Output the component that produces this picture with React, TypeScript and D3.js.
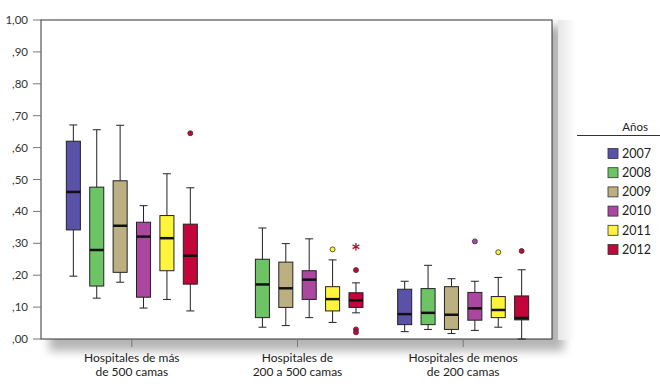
import React, { useEffect, useRef } from 'react';
import * as d3 from 'd3';

// groups (x categories) and years (series)
const groups = [
  ['Hospitales de más', 'de 500 camas'],
  ['Hospitales de', '200 a 500 camas'],
  ['Hospitales de menos', 'de 200 camas'],
];
const years = ['2007', '2008', '2009', '2010', '2011', '2012'];
const yearColors = ['#5a52a8', '#6cc464', '#bcb082', '#ab47a0', '#fff33b', '#c2053b'];

// [low whisker, Q1, median, Q3, high whisker] per year, one array per group (null = no data)
const statsLarge = [
  [0.197, 0.342, 0.461, 0.62, 0.671],
  [0.128, 0.166, 0.279, 0.476, 0.656],
  [0.178, 0.209, 0.355, 0.496, 0.67],
  [0.097, 0.131, 0.321, 0.366, 0.418],
  [0.124, 0.214, 0.316, 0.387, 0.518],
  [0.088, 0.172, 0.261, 0.36, 0.474],
];
const statsMedium = [
  null,
  [0.037, 0.067, 0.171, 0.25, 0.348],
  [0.042, 0.099, 0.159, 0.241, 0.299],
  [0.067, 0.124, 0.186, 0.214, 0.314],
  [0.052, 0.088, 0.125, 0.164, 0.248],
  [0.082, 0.099, 0.121, 0.145, 0.176],
];
const statsSmall = [
  [0.023, 0.045, 0.078, 0.156, 0.181],
  [0.03, 0.045, 0.082, 0.158, 0.231],
  [0.017, 0.03, 0.076, 0.164, 0.189],
  [0.027, 0.059, 0.096, 0.146, 0.181],
  [0.037, 0.067, 0.091, 0.133, 0.193],
  [0.0, 0.06, 0.066, 0.135, 0.217],
];
const allStats = [statsLarge, statsMedium, statsSmall];

// outliers: [group, year index, value, type]
const outliers: [number, number, number, 'o' | '*'][] = [
  [0, 5, 0.645, 'o'],
  [1, 4, 0.281, 'o'],
  [1, 5, 0.285, '*'],
  [1, 5, 0.216, 'o'],
  [1, 5, 0.03, 'o'],
  [1, 5, 0.021, 'o'],
  [2, 3, 0.306, 'o'],
  [2, 4, 0.272, 'o'],
  [2, 5, 0.276, 'o'],
];

const yTicks = [0, 0.1, 0.2, 0.3, 0.4, 0.5, 0.6, 0.7, 0.8, 0.9, 1.0];
const fmt = (v: number) => (v === 1 ? '1,00' : ',' + v.toFixed(2).split('.')[1]);

export default function App() {
  const ref = useRef<SVGSVGElement>(null);

  useEffect(() => {
    if (!ref.current) return;
    const svg = d3.select(ref.current);
    svg.selectAll('*').remove();

    const left = 41, right = 552, top = 20, bottom = 339;
    const font = 'Lato, "Open Sans", sans-serif';

    const y = d3.scaleLinear().domain([0, 1]).range([bottom, top]);
    const x0 = d3.scaleBand<number>().domain([0, 1, 2]).range([49, 546]);
    const x1 = d3.scaleBand<number>().domain(d3.range(years.length)).range([0, 131]).paddingInner(0.4);

    // shadow
    const defs = svg.append('defs');
    const f = defs.append('filter').attr('id', 'sh').attr('x', '-10%').attr('y', '-10%').attr('width', '130%').attr('height', '130%');
    f.append('feGaussianBlur').attr('stdDeviation', 5);
    svg.append('rect')
      .attr('x', left + 8).attr('y', top + 6).attr('width', right - left + 4).attr('height', bottom - top + 6)
      .attr('fill', '#b5b5b5').attr('filter', 'url(#sh)');
    svg.append('rect')
      .attr('x', left).attr('y', top).attr('width', right - left).attr('height', bottom - top)
      .attr('fill', '#fff').attr('stroke', '#333').attr('stroke-width', 1);

    // legend shadow band
    const lg = defs.append('linearGradient').attr('id', 'lg');
    lg.append('stop').attr('offset', 0).attr('stop-color', '#e6e6e6');
    lg.append('stop').attr('offset', 1).attr('stop-color', '#fff');

    // y axis
    const ya = svg.append('g');
    yTicks.forEach((t) => {
      ya.append('line').attr('x1', 33).attr('x2', left).attr('y1', y(t)).attr('y2', y(t))
        .attr('stroke', '#777').attr('stroke-width', 1);
      ya.append('text').attr('x', 28).attr('y', y(t)).attr('dy', '0.35em')
        .attr('text-anchor', 'end').attr('font-family', font).attr('font-size', 11.5)
        .attr('fill', '#333').text(fmt(t));
    });

    // x axis ticks and labels
    groups.forEach((lines, gi) => {
      const cx = x0(gi)! + x0.bandwidth() / 2;
      svg.append('line').attr('x1', cx).attr('x2', cx).attr('y1', bottom).attr('y2', bottom + 8)
        .attr('stroke', '#777');
      lines.forEach((l, li) => {
        svg.append('text').attr('x', cx).attr('y', 362 + li * 14)
          .attr('text-anchor', 'middle').attr('font-family', font).attr('font-size', 12)
          .attr('fill', '#222').text(l);
      });
    });

    // boxes
    const boxX = (gi: number, yi: number) => x0(gi)! + (x0.bandwidth() - 131) / 2 + x1(yi)!;
    allStats.forEach((stats, gi) => {
      stats.forEach((s, yi) => {
        if (!s) return;
        const [lo, q1, med, q3, hi] = s;
        const bx = boxX(gi, yi);
        const bw = x1.bandwidth();
        const cx = bx + bw / 2;
        const g = svg.append('g');
        g.append('line').attr('x1', cx).attr('x2', cx).attr('y1', y(hi)).attr('y2', y(lo))
          .attr('stroke', '#222').attr('stroke-width', 1);
        [lo, hi].forEach((v) => g.append('line').attr('x1', cx - 4).attr('x2', cx + 4)
          .attr('y1', y(v)).attr('y2', y(v)).attr('stroke', '#222').attr('stroke-width', 1));
        g.append('rect').attr('x', bx).attr('y', y(q3)).attr('width', bw).attr('height', y(q1) - y(q3))
          .attr('fill', yearColors[yi]).attr('stroke', '#222').attr('stroke-width', 1);
        g.append('line').attr('x1', bx).attr('x2', bx + bw).attr('y1', y(med)).attr('y2', y(med))
          .attr('stroke', '#111').attr('stroke-width', 2.5);
      });
    });

    // outliers
    outliers.forEach(([gi, yi, v, t]) => {
      const cx = boxX(gi, yi) + x1.bandwidth() / 2;
      if (t === 'o') {
        svg.append('circle').attr('cx', cx).attr('cy', y(v)).attr('r', 2.5)
          .attr('fill', yearColors[yi]).attr('stroke', '#333').attr('stroke-width', 0.8);
      } else {
        svg.append('text').attr('x', cx).attr('y', y(v) + 7).attr('text-anchor', 'middle')
          .attr('font-family', 'DejaVu Sans, sans-serif').attr('font-size', 15).attr('font-weight', 'bold')
          .attr('fill', yearColors[yi]).text('*');
      }
    });

    // legend
    svg.append('rect').attr('x', 558).attr('y', 20).attr('width', 18).attr('height', 320).attr('fill', 'url(#lg)');
    svg.append('text').attr('x', 648).attr('y', 127).attr('dy', '0.35em').attr('text-anchor', 'end')
      .attr('font-family', font).attr('font-size', 11.5).attr('fill', '#222').text('Años');
    svg.append('line').attr('x1', 577).attr('x2', 660).attr('y1', 135.5).attr('y2', 135.5)
      .attr('stroke', '#333').attr('stroke-width', 1);
    const ly = d3.scalePoint<number>().domain(d3.range(years.length)).range([153.5, 249.5]);
    years.forEach((yr, i) => {
      svg.append('rect').attr('x', 608).attr('y', ly(i)! - 5).attr('width', 10).attr('height', 10)
        .attr('fill', yearColors[i]).attr('stroke', '#333').attr('stroke-width', 0.8);
      svg.append('text').attr('x', 622).attr('y', ly(i)!).attr('dy', '0.35em')
        .attr('font-family', font).attr('font-size', 12.5).attr('fill', '#222').text(yr);
    });
  }, []);

  return (
    <svg ref={ref} width={660} height={384}
      style={{ position: 'absolute', left: 0, top: 0, background: '#fff' }} />
  );
}
